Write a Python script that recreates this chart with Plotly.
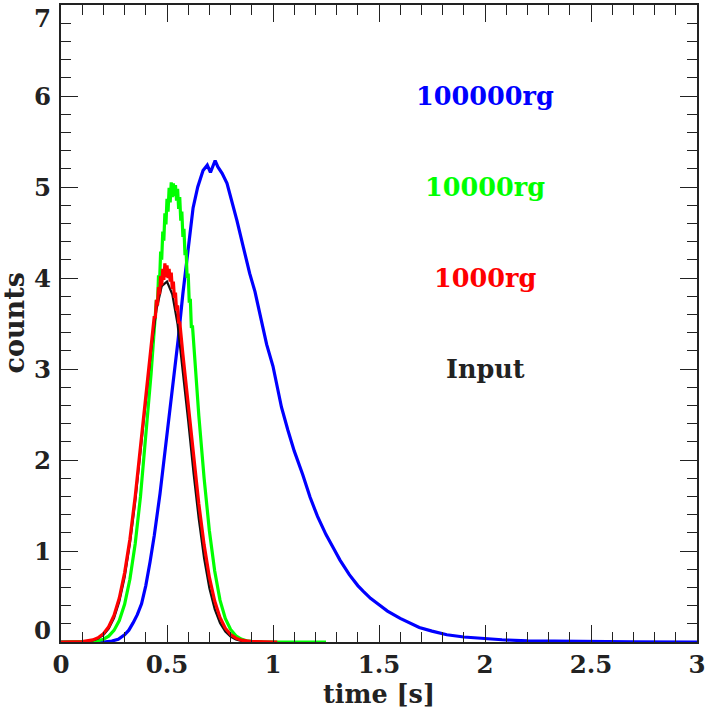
import plotly.graph_objects as go

# ---------------- data ----------------
input_x = [0.0, 0.05, 0.10, 0.15, 0.175, 0.20, 0.225, 0.25, 0.275, 0.30, 0.325, 0.35, 0.375,
           0.40, 0.425, 0.45, 0.475, 0.50, 0.525, 0.55, 0.575, 0.60, 0.625, 0.65, 0.675,
           0.70, 0.725, 0.75, 0.775, 0.80, 0.825, 0.85, 0.90, 0.95, 1.0]
input_y = [0.0, 0.0005, 0.003, 0.018, 0.038, 0.077, 0.147, 0.263, 0.445, 0.71, 1.08, 1.54, 2.08,
           2.66, 3.20, 3.65, 3.91, 3.96, 3.82, 3.49, 2.99, 2.43, 1.86, 1.35, 0.92,
           0.59, 0.36, 0.21, 0.114, 0.059, 0.029, 0.013, 0.0024, 0.0003, 0.0]

rg1000_x = [0.0, 0.05, 0.10, 0.15, 0.175, 0.20, 0.225, 0.25, 0.275, 0.30, 0.325, 0.35, 0.375,
            0.40, 0.425, 0.440, 0.445, 0.450, 0.455, 0.460, 0.465, 0.470, 0.475, 0.480, 0.485,
            0.490, 0.495, 0.500, 0.505, 0.510, 0.515, 0.520, 0.525, 0.530, 0.535, 0.540,
            0.545, 0.550, 0.555, 0.560, 0.575, 0.60, 0.625, 0.65, 0.675, 0.70, 0.725, 0.75,
            0.775, 0.80, 0.825, 0.85, 0.90, 0.95, 1.0, 1.02]
rg1000_y = [0.0, 0.0008, 0.0046, 0.023, 0.047, 0.091, 0.167, 0.292, 0.484, 0.76, 1.13, 1.60, 2.13,
            2.70, 3.25, 3.58, 3.56, 3.76, 3.70, 3.90, 3.82, 4.02, 3.92, 4.10, 3.98,
            4.16, 4.01, 4.14, 4.00, 4.10, 3.96, 4.06, 3.88, 3.96, 3.78, 3.84,
            3.64, 3.70, 3.50, 3.52, 3.16, 2.61, 2.04, 1.52, 1.07, 0.71, 0.45, 0.27,
            0.152, 0.082, 0.042, 0.020, 0.004, 0.0007, 0.0, 0.0]

rg10000_x = [0.0, 0.10, 0.15, 0.175, 0.20, 0.225, 0.25, 0.275, 0.30, 0.325, 0.35, 0.375, 0.40,
             0.425, 0.450, 0.455, 0.460, 0.465, 0.470, 0.475, 0.480, 0.485, 0.490, 0.495,
             0.500, 0.505, 0.510, 0.515, 0.520, 0.525, 0.530, 0.535, 0.540, 0.545, 0.550,
             0.555, 0.560, 0.565, 0.570, 0.575, 0.580, 0.585, 0.590, 0.595, 0.600, 0.605,
             0.610, 0.615, 0.620, 0.65, 0.675, 0.70, 0.725, 0.75, 0.775, 0.80, 0.825, 0.85,
             0.875, 0.90, 0.95, 1.0, 1.1, 1.25]
rg10000_y = [0.0, 0.001, 0.006, 0.014, 0.031, 0.064, 0.127, 0.236, 0.415, 0.69, 1.08, 1.60, 2.24,
             2.95, 3.76, 3.70, 4.03, 3.96, 4.29, 4.20, 4.51, 4.41, 4.71, 4.59,
             4.87, 4.73, 4.99, 4.83, 5.05, 4.89, 5.04, 4.90, 5.02, 4.85, 4.98,
             4.76, 4.89, 4.63, 4.73, 4.45, 4.54, 4.25, 4.31, 4.00, 4.05, 3.73,
             3.77, 3.45, 3.48, 2.49, 1.80, 1.22, 0.78, 0.46, 0.26, 0.138, 0.068, 0.032,
             0.014, 0.006, 0.001, 0.0, 0.0, 0.0]

rg100000_x = [0.0, 0.20, 0.24, 0.27, 0.30, 0.32, 0.34, 0.36, 0.38, 0.40, 0.42, 0.44, 0.467,
              0.49, 0.52, 0.552, 0.575, 0.60, 0.623, 0.645, 0.67, 0.69, 0.705, 0.715, 0.727,
              0.74, 0.76, 0.783, 0.80, 0.83, 0.86, 0.89, 0.915, 0.94, 0.97, 1.00, 1.04, 1.07,
              1.10, 1.14, 1.175, 1.21, 1.25, 1.29, 1.316, 1.36, 1.40, 1.425, 1.46, 1.505,
              1.54, 1.60, 1.65, 1.69, 1.75, 1.82, 1.90, 1.98, 2.08, 2.20, 2.35, 2.50, 2.70, 3.0]
rg100000_y = [0.0, 0.0, 0.01, 0.03, 0.08, 0.13, 0.21, 0.30, 0.42, 0.62, 0.88, 1.17, 1.63,
              2.07, 2.68, 3.31, 3.83, 4.32, 4.77, 5.00, 5.18, 5.24, 5.16, 5.22, 5.29,
              5.22, 5.15, 5.04, 4.90, 4.63, 4.34, 4.05, 3.85, 3.60, 3.27, 3.03, 2.58, 2.33,
              2.10, 1.84, 1.59, 1.38, 1.18, 1.01, 0.90, 0.74, 0.62, 0.56, 0.48, 0.40,
              0.34, 0.26, 0.20, 0.16, 0.12, 0.08, 0.055, 0.04, 0.025, 0.012, 0.006, 0.003, 0.001, 0.0]

labels = ["100000rg", "10000rg", "1000rg", "Input"]
label_colors = ["#0000ff", "#00ff00", "#ff0000", "#222222"]
label_x = [2.0, 2.0, 2.0, 2.0]
label_y = [6.0, 5.0, 4.0, 3.0]

y_ticks = [0, 1, 2, 3, 4, 5, 6, 7]
x_ticks = [0, 0.5, 1, 1.5, 2, 2.5, 3]
x_ticktext = ["0", "0.5", "1", "1.5", "2", "2.5", "3"]

FONT = "DejaVu Serif"
INK = "#222222"

fig = go.Figure()
fig.add_trace(go.Scatter(x=rg100000_x, y=rg100000_y, mode="lines",
                         line=dict(color="#0000ff", width=3.2), showlegend=False))
fig.add_trace(go.Scatter(x=rg10000_x, y=rg10000_y, mode="lines",
                         line=dict(color="#00ff00", width=3.2), showlegend=False))
fig.add_trace(go.Scatter(x=input_x, y=input_y, mode="lines",
                         line=dict(color="#111111", width=2.2), showlegend=False))
fig.add_trace(go.Scatter(x=rg1000_x, y=rg1000_y, mode="lines",
                         line=dict(color="#ff0000", width=3.2), showlegend=False))

for t, c, xx, yy in zip(labels, label_colors, label_x, label_y):
    fig.add_annotation(x=xx, y=yy, text="<b>%s</b>" % t, showarrow=False,
                       font=dict(family=FONT, size=25.5, color=c),
                       xanchor="center", yanchor="middle")

# y tick labels (end labels nudged inside like the reference)
for v in y_ticks:
    shift = 0
    if v == 0:
        shift = 12
    elif v == 7:
        shift = -13
    fig.add_annotation(x=0, xref="paper", y=v, yref="y", text="<b>%d</b>" % v,
                       showarrow=False, xanchor="right", yanchor="middle",
                       xshift=-8, yshift=shift,
                       font=dict(family=FONT, size=24.5, color=INK))

axis_common = dict(
    showgrid=False, zeroline=False, showline=True, linecolor=INK, linewidth=1.5,
    mirror="allticks", ticks="inside", ticklen=17, tickwidth=1.3, tickcolor=INK,
    automargin=False,
)

fig.update_xaxes(range=[0, 3], tickvals=x_ticks,
                 ticktext=["<b>%s</b>" % s for s in x_ticktext],
                 tickfont=dict(family=FONT, size=24.5, color=INK),
                 ticklabeloverflow="allow",
                 minor=dict(dtick=0.1, ticklen=10, tickwidth=1.3, tickcolor=INK, ticks="inside"),
                 title=dict(text="<b>time [s]</b>", font=dict(family=FONT, size=25.5, color=INK),
                            standoff=3),
                 **axis_common)
fig.update_yaxes(range=[0, 7], tickvals=y_ticks, showticklabels=False,
                 minor=dict(dtick=0.2, ticklen=10, tickwidth=1.3, tickcolor=INK, ticks="inside"),
                 **axis_common)

fig.add_annotation(x=0, xref="paper", xshift=-47, y=0.5, yref="paper", text="<b>counts</b>",
                   textangle=-90, showarrow=False, xanchor="center", yanchor="middle",
                   font=dict(family=FONT, size=27, color=INK))

fig.update_layout(width=705, height=718, margin=dict(l=61, r=8, t=5, b=76),
                  plot_bgcolor="white", paper_bgcolor="white")

fig.write_html("out.html")
